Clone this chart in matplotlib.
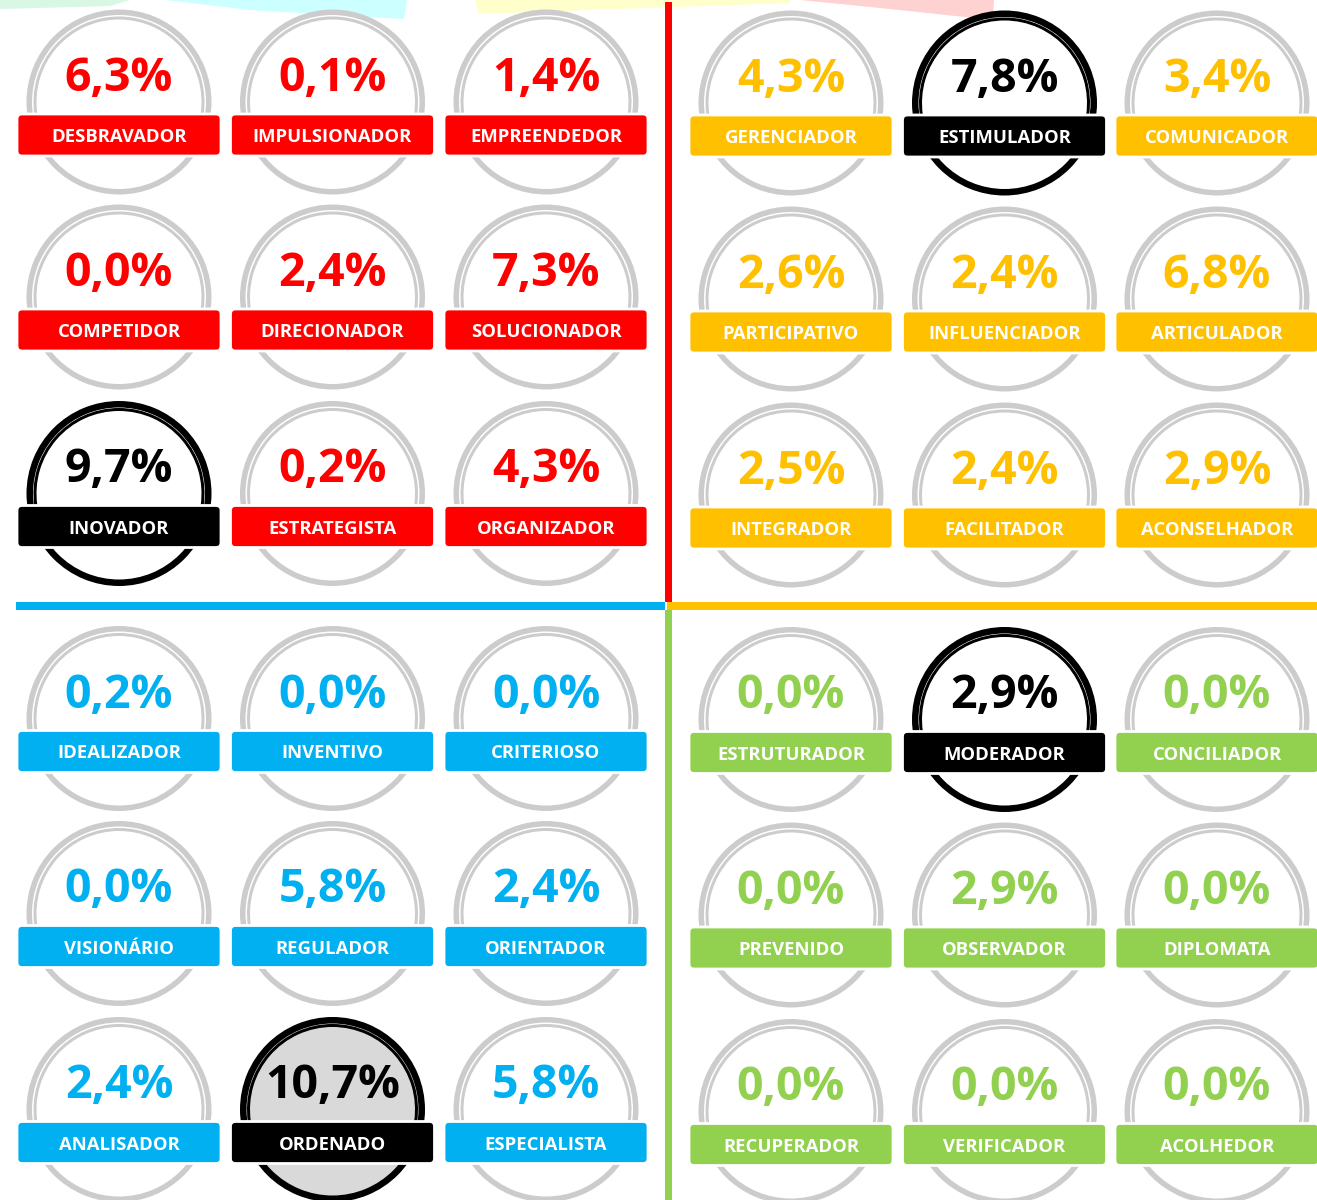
import matplotlib
matplotlib.use("Agg")
import matplotlib.pyplot as plt
from matplotlib.patches import Wedge, Circle, FancyBboxPatch, Rectangle, Polygon

# quadrant data (values in %)
ul_labels = ["DESBRAVADOR", "IMPULSIONADOR", "EMPREENDEDOR",
             "COMPETIDOR", "DIRECIONADOR", "SOLUCIONADOR",
             "INOVADOR", "ESTRATEGISTA", "ORGANIZADOR"]
ul_values = [6.3, 0.1, 1.4, 0.0, 2.4, 7.3, 9.7, 0.2, 4.3]

ur_labels = ["GERENCIADOR", "ESTIMULADOR", "COMUNICADOR",
             "PARTICIPATIVO", "INFLUENCIADOR", "ARTICULADOR",
             "INTEGRADOR", "FACILITADOR", "ACONSELHADOR"]
ur_values = [4.3, 7.8, 3.4, 2.6, 2.4, 6.8, 2.5, 2.4, 2.9]

ll_labels = ["IDEALIZADOR", "INVENTIVO", "CRITERIOSO",
             "VISIONÁRIO", "REGULADOR", "ORIENTADOR",
             "ANALISADOR", "ORDENADO", "ESPECIALISTA"]
ll_values = [0.2, 0.0, 0.0, 0.0, 5.8, 2.4, 2.4, 10.7, 5.8]

lr_labels = ["ESTRUTURADOR", "MODERADOR", "CONCILIADOR",
             "PREVENIDO", "OBSERVADOR", "DIPLOMATA",
             "RECUPERADOR", "VERIFICADOR", "ACOLHEDOR"]
lr_values = [0.0, 2.9, 0.0, 0.0, 2.9, 0.0, 0.0, 0.0, 0.0]

# badge index highlighted (black) in each quadrant
ul_top, ur_top, ll_top, lr_top = 6, 1, 7, 1

RED = "#FF0000"
YEL = "#FFC000"
BLU = "#00B0F0"
GRN = "#92D050"
GRAY = "#CCCCCC"

FONT = "Open Sans"

fig = plt.figure(figsize=(13.17, 12), dpi=100)
ax = fig.add_axes([0, 0, 1, 1])
ax.set_xlim(0, 1317)
ax.set_ylim(1200, 0)
ax.set_aspect("equal")
ax.axis("off")

# faint decorative shapes cut off at the top edge
ax.add_patch(Polygon([(0, 0), (130, 0), (110, 6), (0, 9)], color="#d8f7e4", lw=0))
ax.add_patch(Polygon([(165, 0), (407, 0), (404, 19), (250, 10)], color="#ccffff", lw=0))
ax.add_patch(Polygon([(475, 0), (790, 0), (790, 3), (478, 14)], color="#ffffcc", lw=0))
ax.add_patch(Polygon([(800, 0), (994, 0), (993, 20), (880, 8)], color="#ffd2d2", lw=0))


def badge(cx, by, value, label, color, top=False, filled=False):
    cy = by - 33
    ring = "black" if top else GRAY
    if filled:
        ax.add_patch(Circle((cx, cy), 88, color="#D9D9D9", lw=0, zorder=1))
    outer_w = 6.5 if top else 5.5
    ax.add_patch(Wedge((cx, cy), 92.5, 0, 360, width=outer_w, color=ring, lw=0, zorder=2))
    ax.add_patch(Wedge((cx, cy), 85.5, 172, 368, width=3, color=ring, lw=0, zorder=2))
    ax.add_patch(FancyBboxPatch((cx - 98, by - 17), 196, 34,
                                boxstyle="round,pad=4,rounding_size=5",
                                fc="black" if top else color, ec="white", lw=2, zorder=3))
    txt = f"{value:.1f}%".replace(".", ",")
    ax.text(cx, by - 44, txt, ha="center", va="baseline", fontsize=33.5,
            fontweight="bold", family=FONT, color="black" if top else color, zorder=4)
    ax.text(cx, by + 7, label, ha="center", va="baseline", fontsize=13.3,
            fontweight="bold", family=FONT, color="white", zorder=4)


def quadrant(xs, ys, values, labels, color, top, filled=False):
    for i, (v, lab) in enumerate(zip(values, labels)):
        r, c = divmod(i, 3)
        badge(xs[c], ys[r], v, lab, color, top=(i == top), filled=(filled and i == top))


left_x = [119, 332.5, 546]
right_x = [791, 1004.5, 1217]

quadrant(left_x, [135, 330, 526.5], ul_values, ul_labels, RED, ul_top)
quadrant(right_x, [136, 332, 528], ur_values, ur_labels, YEL, ur_top)
quadrant(left_x, [751.5, 946.5, 1142.5], ll_values, ll_labels, BLU, ll_top, filled=True)
quadrant(right_x, [752.5, 948, 1144.5], lr_values, lr_labels, GRN, lr_top)

# quadrant dividers
ax.add_patch(Rectangle((664.5, 2), 7, 600, color=RED, lw=0, zorder=5))
ax.add_patch(Rectangle((16, 602), 649, 7.5, color=BLU, lw=0, zorder=5))
ax.add_patch(Rectangle((667, 602), 650, 7.5, color=YEL, lw=0, zorder=5))
ax.add_patch(Rectangle((664.5, 609.5), 7, 591, color=GRN, lw=0, zorder=5))

fig.savefig("out.png", dpi=100)
